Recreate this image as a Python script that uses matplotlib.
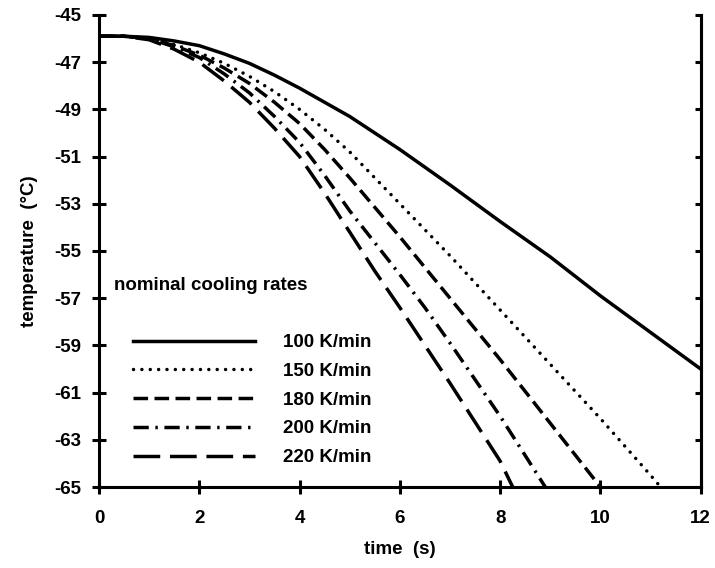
import numpy as np
import matplotlib.pyplot as plt

plt.rcParams['font.family'] = ['Liberation Sans', 'DejaVu Sans']
plt.rcParams['font.weight'] = 'bold'
plt.rcParams['axes.unicode_minus'] = False

# time (s) and temperature (degC), one pair per cooling rate
t_100 = [0, 0.5, 1, 1.5, 2, 2.5, 3, 3.5, 4, 4.5, 5, 5.5, 6, 6.5, 7, 8, 9, 10, 11, 12]
T_100 = [-45.9, -45.9, -45.95, -46.1, -46.3, -46.65, -47.05, -47.55, -48.1, -48.7,
         -49.3, -50.0, -50.7, -51.45, -52.2, -53.75, -55.25, -56.9, -58.45, -60.0]

t_150 = [0, 0.5, 1, 1.5, 2, 2.5, 3, 3.5, 4, 4.5, 5, 5.5, 6, 6.5, 7, 8, 9, 10, 11, 11.2]
T_150 = [-45.9, -45.9, -46.0, -46.25, -46.6, -47.05, -47.6, -48.25, -49.0, -49.85,
         -50.8, -51.9, -53.0, -54.1, -55.2, -57.5, -59.8, -62.1, -64.5, -65.0]

t_180 = [0, 0.5, 1, 1.5, 2, 2.5, 3, 3.5, 4, 4.5, 5, 5.5, 6, 6.5, 7, 8, 9, 10]
T_180 = [-45.9, -45.9, -46.0, -46.3, -46.7, -47.25, -47.9, -48.7, -49.6, -50.7,
         -51.9, -53.15, -54.4, -55.7, -57.0, -59.6, -62.3, -65.0]

t_200 = [0, 0.5, 1, 1.5, 2, 2.5, 3, 3.5, 4, 4.5, 5, 5.5, 6, 6.5, 7, 8, 8.9]
T_200 = [-45.9, -45.9, -46.0, -46.35, -46.8, -47.5, -48.3, -49.3, -50.4, -51.8,
         -53.3, -54.65, -56.0, -57.4, -58.9, -62.0, -65.0]

t_220 = [0, 0.5, 1, 1.5, 2, 2.5, 3, 3.5, 4, 4.5, 5, 5.5, 6, 6.5, 7, 8, 8.25]
T_220 = [-45.9, -45.9, -46.05, -46.45, -47.0, -47.8, -48.7, -49.8, -51.0, -52.55,
         -54.2, -55.85, -57.4, -59.0, -60.6, -63.9, -65.0]

labels = ['100 K/min', '150 K/min', '180 K/min', '200 K/min', '220 K/min']
xticks = [0, 2, 4, 6, 8, 10, 12]
yticks = [-45, -47, -49, -51, -53, -55, -57, -59, -61, -63, -65]

fig = plt.figure(figsize=(7.15, 5.68), dpi=100)
ax = fig.add_axes([0.1385, 0.1426, 0.8415, 0.831])

lw = 2.5
ax.plot(t_100, T_100, color='black', lw=lw, label=labels[0])
ax.plot(t_150, T_150, color='black', lw=lw, ls=(0, (0.01, 2.4)),
        dash_capstyle='round', label=labels[1])
ax.plot(t_180, T_180, color='black', lw=lw, ls=(0, (4.2, 1.85)), label=labels[2])
ax.plot(t_200, T_200, color='black', lw=lw, ls=(0, (4.4, 1.9, 0.7, 1.9)), label=labels[3])
ax.plot(t_220, T_220, color='black', lw=lw, ls=(0, (7.7, 2.8)), label=labels[4])

ax.set_xlim(0, 12)
ax.set_ylim(-65, -45)
ax.set_xticks(xticks)
ax.set_yticks(yticks)
ax.tick_params(direction='inout', length=9.5, width=2.2, labelsize=13.5, pad=8)
ax.tick_params(axis='x', pad=12)
ax.spines['top'].set_visible(False)
for s in ['left', 'bottom', 'right']:
    ax.spines[s].set_linewidth(2.2)

# right axis carries the same ticks, pointing in, without labels
ax2 = ax.twinx()
ax2.set_ylim(-65, -45)
ax2.set_yticks(yticks)
ax2.set_yticklabels([])
ax2.tick_params(direction='in', length=4.5, width=2.2)
ax2.spines['top'].set_visible(False)
ax2.spines['right'].set_linewidth(2.2)

ax.set_xlabel('time  (s)', fontsize=13.5, fontweight='bold', labelpad=10)
ax.set_ylabel('temperature  (°C)', fontsize=13.5, fontweight='bold', labelpad=12)

ax.text(0.3, -56.45, 'nominal cooling rates', fontsize=13.5, fontweight='bold',
        va='center', ha='left')
ax.legend(loc='upper left', bbox_to_anchor=(0.057, 0.324), frameon=False,
          fontsize=13.5, handlelength=6.5, handletextpad=1.5, labelspacing=0.62,
          borderaxespad=0, borderpad=0)

fig.savefig('out.png', dpi=100)
